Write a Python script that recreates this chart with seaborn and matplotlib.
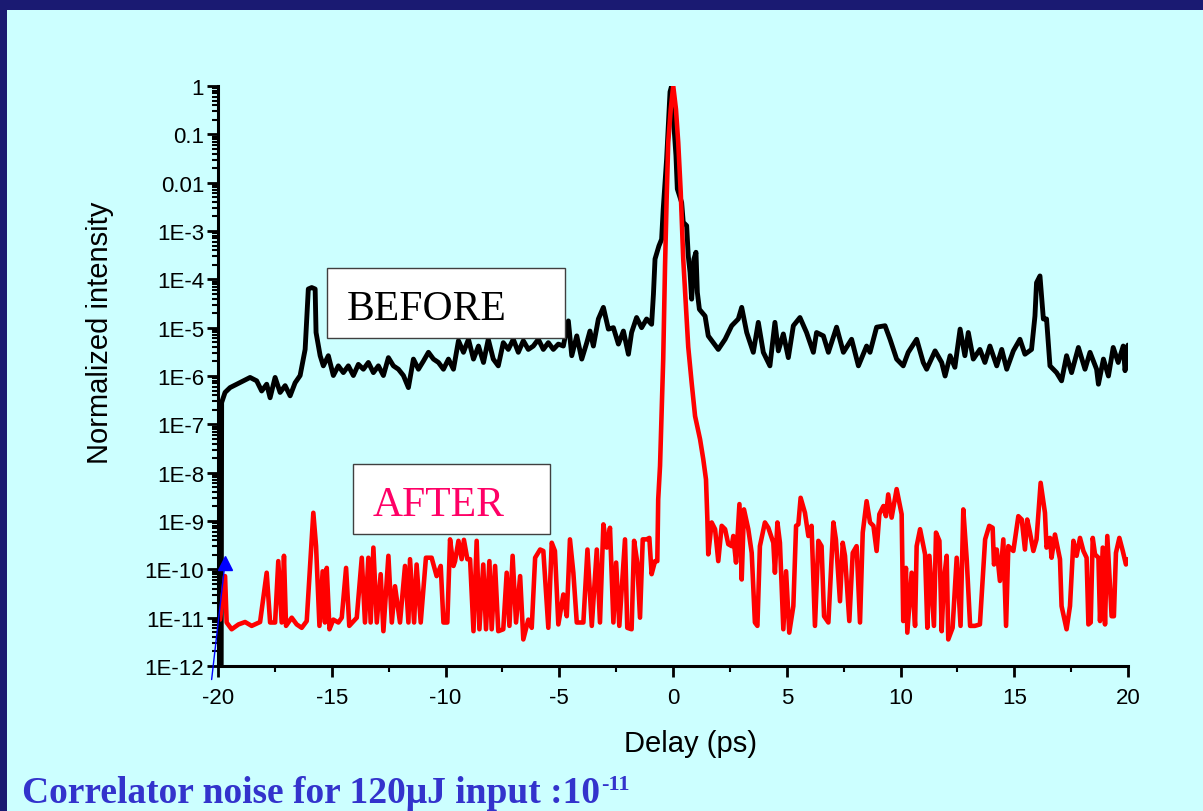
import numpy as np
import pandas as pd
import matplotlib
matplotlib.use("Agg")
import matplotlib.pyplot as plt
import seaborn as sns
from matplotlib.patches import Rectangle
from matplotlib.ticker import LogLocator, FixedLocator, MultipleLocator, NullFormatter

# ---------------- data ----------------
before_delay = [
    -19.86, -19.84, -19.69, -19.47, -19.18, -18.88, -18.59, -18.30, -18.08, -17.86,
    -17.71, -17.49, -17.27, -17.05, -16.83, -16.61, -16.39, -16.17, -16.03, -15.88,
    -15.73, -15.69, -15.51, -15.37, -15.15, -14.93, -14.71, -14.49, -14.27, -14.05,
    -13.83, -13.61, -13.39, -13.17, -12.95, -12.73, -12.51, -12.29, -12.07, -11.85,
    -11.63, -11.41, -11.19, -10.97, -10.75, -10.53, -10.31, -10.09, -9.87, -9.65,
    -9.43, -9.21, -8.99, -8.77, -8.55, -8.33, -8.12, -7.90, -7.68, -7.46,
    -7.24, -7.02, -6.80, -6.58, -6.36, -6.14, -5.92, -5.70, -5.48, -5.26,
    -5.04, -4.82, -4.60, -4.45, -4.23, -4.01, -3.79, -3.65, -3.50, -3.28,
    -3.06, -2.84, -2.62, -2.40, -2.18, -1.96, -1.82, -1.60, -1.38, -1.16,
    -0.94, -0.86, -0.79, -0.62, -0.50, -0.43, -0.28, -0.13, -0.06, 0.04,
    0.13, 0.19, 0.38, 0.45, 0.60, 0.67, 0.75, 0.82, 0.92, 1.01,
    1.07, 1.16, 1.41, 1.55, 1.77, 1.99, 2.29, 2.58, 2.87, 3.02,
    3.24, 3.53, 3.75, 3.97, 4.26, 4.48, 4.63, 4.85, 5.07, 5.29,
    5.58, 5.87, 6.17, 6.31, 6.61, 6.83, 7.19, 7.49, 7.85, 8.15,
    8.51, 8.66, 8.95, 9.32, 9.54, 9.83, 10.12, 10.34, 10.71, 11.00,
    11.15, 11.52, 11.81, 11.96, 12.18, 12.39, 12.62, 12.83, 12.98, 13.20,
    13.49, 13.71, 13.93, 14.23, 14.45, 14.67, 14.96, 15.25, 15.47, 15.76,
    15.91, 15.98, 16.13, 16.28, 16.42, 16.57, 16.86, 17.08, 17.30, 17.52,
    17.82, 18.11, 18.33, 18.62, 18.70, 18.92, 19.14, 19.35, 19.57, 19.79,
    19.87, 20.00,
]
before_log10 = [
    -12.20, -6.55, -6.34, -6.24, -6.17, -6.10, -6.03, -6.10, -6.31, -6.17,
    -6.45, -6.03, -6.34, -6.20, -6.41, -6.14, -5.99, -5.45, -4.20, -4.17,
    -4.20, -5.10, -5.58, -5.79, -5.58, -5.99, -5.79, -5.93, -5.79, -5.99,
    -5.76, -5.86, -5.72, -5.93, -5.79, -5.99, -5.62, -5.79, -5.86, -5.99,
    -6.24, -5.65, -5.86, -5.69, -5.51, -5.65, -5.72, -5.86, -5.65, -5.86,
    -5.27, -5.51, -5.24, -5.65, -5.38, -5.72, -5.24, -5.65, -5.79, -5.31,
    -5.45, -5.24, -5.51, -5.27, -5.45, -5.38, -5.24, -5.45, -5.31, -5.45,
    -5.34, -5.38, -4.86, -5.58, -5.17, -5.65, -5.31, -5.07, -5.38, -4.82,
    -4.58, -5.03, -5.00, -5.34, -5.07, -5.55, -5.10, -4.79, -5.00, -4.82,
    -4.93, -4.31, -3.58, -3.31, -3.17, -2.55, -1.51, -0.12, 0.00, -0.82,
    -1.44, -2.13, -2.41, -2.82, -2.89, -3.51, -3.86, -4.41, -3.58, -3.44,
    -4.27, -4.62, -4.76, -5.17, -5.31, -5.45, -5.24, -4.96, -4.82, -4.58,
    -5.10, -5.51, -4.89, -5.51, -5.79, -4.89, -5.48, -5.13, -5.62, -4.96,
    -4.79, -5.10, -5.51, -5.10, -5.17, -5.51, -4.99, -5.51, -5.24, -5.79,
    -5.38, -5.51, -4.99, -4.96, -5.24, -5.65, -5.79, -5.51, -5.24, -5.72,
    -5.86, -5.48, -5.72, -6.00, -5.58, -5.82, -5.03, -5.58, -5.10, -5.65,
    -5.45, -5.72, -5.38, -5.79, -5.45, -5.86, -5.48, -5.24, -5.55, -5.45,
    -4.76, -4.07, -3.93, -4.82, -4.82, -5.79, -5.93, -6.10, -5.58, -5.93,
    -5.41, -5.86, -5.51, -5.86, -6.17, -5.65, -6.00, -5.41, -5.72, -5.38,
    -5.89, -5.36,
]

after_delay = [
    -19.97, -19.91, -19.69, -19.62, -19.40, -19.10, -18.81, -18.52, -18.15, -17.86,
    -17.71, -17.49, -17.35, -17.20, -17.10, -17.01, -16.76, -16.54, -16.32, -16.10,
    -15.81, -15.69, -15.54, -15.40, -15.30, -15.22, -15.10, -14.93, -14.71, -14.56,
    -14.37, -14.23, -13.90, -13.68, -13.54, -13.39, -13.29, -13.17, -13.02, -12.85,
    -12.73, -12.51, -12.36, -12.22, -12.00, -11.78, -11.63, -11.56, -11.38, -11.27,
    -11.09, -10.86, -10.61, -10.39, -10.21, -10.09, -9.92, -9.80, -9.65, -9.58,
    -9.43, -9.29, -9.19, -9.04, -8.92, -8.77, -8.63, -8.51, -8.34, -8.22,
    -8.07, -7.97, -7.82, -7.68, -7.46, -7.31, -7.19, -7.05, -6.90, -6.72,
    -6.58, -6.36, -6.21, -6.06, -5.84, -5.70, -5.48, -5.33, -5.19, -5.04,
    -4.82, -4.67, -4.53, -4.38, -4.23, -3.94, -3.76, -3.57, -3.35, -3.21,
    -3.06, -2.91, -2.77, -2.62, -2.50, -2.36, -2.11, -2.01, -1.82, -1.71,
    -1.57, -1.45, -1.33, -1.16, -1.04, -0.94, -0.79, -0.69, -0.65, -0.57,
    -0.50, -0.43, -0.35, -0.28, -0.21, -0.10, 0.01, 0.13, 0.23, 0.34,
    0.45, 0.60, 0.67, 0.82, 0.97, 1.19, 1.33, 1.45, 1.51, 1.55,
    1.70, 1.85, 1.99, 2.14, 2.29, 2.43, 2.58, 2.65, 2.77, 2.92,
    3.02, 3.12, 3.31, 3.46, 3.60, 3.71, 3.82, 4.04, 4.19, 4.41,
    4.48, 4.59, 4.70, 4.85, 4.97, 5.11, 5.29, 5.41, 5.51, 5.61,
    5.80, 5.95, 6.09, 6.24, 6.39, 6.53, 6.64, 6.83, 7.05, 7.16,
    7.34, 7.46, 7.56, 7.75, 7.90, 8.07, 8.22, 8.34, 8.51, 8.66,
    8.81, 8.95, 9.07, 9.25, 9.36, 9.46, 9.61, 9.83, 10.05, 10.12,
    10.24, 10.30, 10.49, 10.64, 10.71, 10.86, 11.08, 11.18, 11.27, 11.47,
    11.56, 11.71, 11.81, 11.91, 12.03, 12.10, 12.29, 12.47, 12.64, 12.76,
    12.91, 13.06, 13.27, 13.49, 13.72, 13.90, 14.05, 14.11, 14.23, 14.37,
    14.52, 14.64, 14.74, 14.96, 15.18, 15.33, 15.47, 15.57, 15.69, 15.84,
    15.98, 16.16, 16.35, 16.42, 16.57, 16.64, 16.79, 17.01, 17.08, 17.30,
    17.45, 17.60, 17.74, 17.89, 18.04, 18.18, 18.26, 18.36, 18.45, 18.55,
    18.70, 18.77, 18.89, 18.99, 19.09, 19.28, 19.38, 19.47, 19.62, 19.77,
    19.91, 20.00,
]
after_log10 = [
    -11.00, -11.04, -10.14, -11.10, -11.24, -11.14, -11.09, -11.17, -11.09, -10.07,
    -11.10, -11.10, -9.83, -11.10, -9.72, -11.17, -11.00, -11.14, -11.21, -11.07,
    -8.83, -9.52, -11.17, -10.04, -11.10, -9.97, -11.24, -11.04, -11.10, -11.00,
    -9.97, -11.17, -11.00, -9.76, -11.10, -9.76, -11.10, -9.55, -11.10, -10.10,
    -11.28, -9.72, -11.10, -10.35, -11.10, -9.93, -11.10, -9.79, -11.10, -9.90,
    -11.10, -9.76, -9.76, -10.14, -9.93, -11.10, -11.10, -9.38, -9.93, -9.83,
    -9.41, -9.79, -9.39, -9.79, -9.79, -11.28, -9.41, -11.24, -9.90, -11.24,
    -9.83, -11.24, -9.93, -11.28, -11.24, -10.07, -11.17, -9.72, -11.10, -10.14,
    -11.45, -11.04, -11.21, -9.76, -9.59, -9.62, -11.21, -9.45, -9.62, -11.14,
    -10.52, -10.97, -9.38, -10.07, -11.10, -11.10, -9.59, -11.17, -9.59, -11.10,
    -9.07, -9.55, -9.14, -11.10, -9.86, -11.17, -9.38, -11.21, -11.24, -9.41,
    -9.86, -11.00, -9.38, -9.38, -9.35, -10.10, -9.83, -9.83, -8.55, -7.86,
    -6.76, -5.65, -3.72, -2.34, -1.17, -0.48, 0.00, -0.48, -1.17, -2.20,
    -3.58, -4.82, -5.40, -6.14, -6.83, -7.31, -7.72, -8.14, -8.96, -9.69,
    -9.03, -9.17, -9.83, -9.10, -9.17, -9.48, -9.52, -9.31, -9.86, -8.65,
    -10.21, -8.76, -9.17, -9.66, -11.10, -11.17, -9.52, -9.03, -9.14, -9.45,
    -10.07, -9.03, -9.45, -11.24, -10.04, -11.31, -10.76, -9.10, -9.07, -8.52,
    -8.83, -9.31, -9.10, -11.17, -9.41, -9.52, -10.97, -11.10, -9.03, -9.38,
    -10.66, -9.45, -9.72, -11.07, -9.66, -9.52, -11.10, -9.24, -8.59, -9.03,
    -9.10, -9.62, -8.86, -8.69, -8.90, -8.45, -8.93, -8.34, -8.86, -11.07,
    -9.97, -11.31, -10.07, -11.17, -9.52, -9.17, -9.69, -11.21, -9.72, -11.17,
    -9.24, -9.41, -11.28, -10.21, -9.72, -11.45, -11.21, -9.76, -11.17, -8.76,
    -9.79, -11.17, -11.17, -11.14, -9.38, -9.10, -9.14, -9.90, -9.59, -10.24,
    -9.38, -11.17, -9.52, -9.62, -8.90, -8.97, -9.59, -8.97, -9.24, -9.62,
    -9.38, -8.21, -8.83, -9.55, -9.35, -9.76, -9.28, -9.79, -10.76, -11.24,
    -10.76, -9.41, -9.72, -9.35, -9.62, -9.76, -11.14, -11.10, -9.35, -9.69,
    -9.76, -11.07, -9.55, -11.14, -9.31, -10.97, -10.97, -9.66, -9.35, -9.62,
    -9.90, -9.79,
]

# blue calibration mark near -20 ps
marker_line_delay = [-20.28, -19.69]
marker_line_log10 = [-12.28, -9.86]
marker_delay = [-19.69]
marker_log10 = [-9.86]

x_ticks = [-20, -15, -10, -5, 0, 5, 10, 15, 20]
y_tick_exponents = [0, -1, -2, -3, -4, -5, -6, -7, -8, -9, -10, -11, -12]
y_tick_labels = ["1", "0.1", "0.01", "1E-3", "1E-4", "1E-5", "1E-6", "1E-7",
                 "1E-8", "1E-9", "1E-10", "1E-11", "1E-12"]

# ---------------- styling ----------------
sns.set_style("ticks")
plt.rcParams['font.family'] = ['Liberation Sans', 'DejaVu Sans']

BG = "#CCFFFF"
NAVY = "#1A1A72"
W, H = 1203, 812

fig = plt.figure(figsize=(W / 100, H / 100), dpi=100)
fig.patch.set_facecolor(BG)
fig.patches.append(Rectangle((0, 1 - 10.5 / H), 1, 10.5 / H, transform=fig.transFigure,
                             facecolor=NAVY, edgecolor="none", zorder=0))
fig.patches.append(Rectangle((0, 0), 6.5 / W, 1, transform=fig.transFigure,
                             facecolor=NAVY, edgecolor="none", zorder=0))

ax = fig.add_axes([218 / W, (H - 667) / H, 910 / W, 580 / H])
ax.set_facecolor("none")

df_before = pd.DataFrame({"delay": before_delay, "intensity": 10.0 ** np.array(before_log10)})
df_after = pd.DataFrame({"delay": after_delay, "intensity": 10.0 ** np.array(after_log10)})

sns.lineplot(data=df_before, x="delay", y="intensity", ax=ax, color="black",
             linewidth=3.5, sort=False, estimator=None)
sns.lineplot(data=df_after, x="delay", y="intensity", ax=ax, color="#FF0000",
             linewidth=3.3, sort=False, estimator=None)

ax.plot(marker_line_delay, 10.0 ** np.array(marker_line_log10), color="blue",
        linewidth=1.0, clip_on=False, zorder=4)
ax.plot(marker_delay, 10.0 ** np.array(marker_log10), linestyle="none", marker="^",
        markersize=10, color="blue", clip_on=False, zorder=5)

ax.set_yscale("log")
ax.set_xlim(-20, 20)
ax.set_ylim(1e-12, 1)

ax.set_xticks(x_ticks)
ax.set_xticklabels([str(t) for t in x_ticks])
ax.xaxis.set_minor_locator(MultipleLocator(2.5))
ax.yaxis.set_major_locator(FixedLocator([10.0 ** e for e in y_tick_exponents]))
ax.set_yticklabels(y_tick_labels)
ax.yaxis.set_minor_locator(LogLocator(base=10, subs=np.arange(2, 10), numticks=100))
ax.yaxis.set_minor_formatter(NullFormatter())

sns.despine(ax=ax)
for side in ("left", "bottom"):
    ax.spines[side].set_linewidth(2.2)
    ax.spines[side].set_color("black")

ax.tick_params(axis="both", which="major", direction="out", length=8, width=2,
               color="black", labelsize=16, labelcolor="black")
ax.tick_params(axis="both", which="minor", direction="out", length=4.5, width=1.5, color="black")
ax.tick_params(axis="y", which="major", pad=2)
ax.tick_params(axis="x", which="major", pad=7)

ax.set_xlabel("Delay (ps)", fontsize=21, color="black")
ax.set_ylabel("Normalized intensity", fontsize=21, color="black")
ax.xaxis.set_label_coords((690 - 218) / 910, (667 - 730) / 580)
ax.yaxis.set_label_coords((114 - 218) / 910, (667 - 333) / 580)

# annotation boxes
fig.patches.append(Rectangle((327 / W, (H - 339) / H), 238 / W, 70 / H, transform=fig.transFigure,
                             facecolor="white", edgecolor="#404040", linewidth=1.0, zorder=6))
fig.text(347 / W, (H - 320) / H, "BEFORE", fontfamily="Liberation Serif", fontsize=30,
         color="black", va="baseline", ha="left", zorder=7)
fig.patches.append(Rectangle((353 / W, (H - 535) / H), 197 / W, 70 / H, transform=fig.transFigure,
                             facecolor="white", edgecolor="#404040", linewidth=1.0, zorder=6))
fig.text(373 / W, (H - 516) / H, "AFTER", fontfamily="Liberation Serif", fontsize=30,
         color="#FF0066", va="baseline", ha="left", zorder=7)

# caption
cap = fig.text(22 / W, (H - 803) / H, "Correlator noise for 120\u03bcJ input :10",
               fontfamily="Liberation Serif", fontweight="bold", fontsize=27,
               color="#3333CC", va="baseline", ha="left")
renderer = fig.canvas.get_renderer()
bb = cap.get_window_extent(renderer=renderer)
fig.text(bb.x1 / W + 1 / W, (H - 803 + 13) / H, "-11", fontfamily="Liberation Serif",
         fontweight="bold", fontsize=16, color="#3333CC", va="baseline", ha="left")

fig.savefig("out.png", dpi=100, facecolor=fig.get_facecolor())
